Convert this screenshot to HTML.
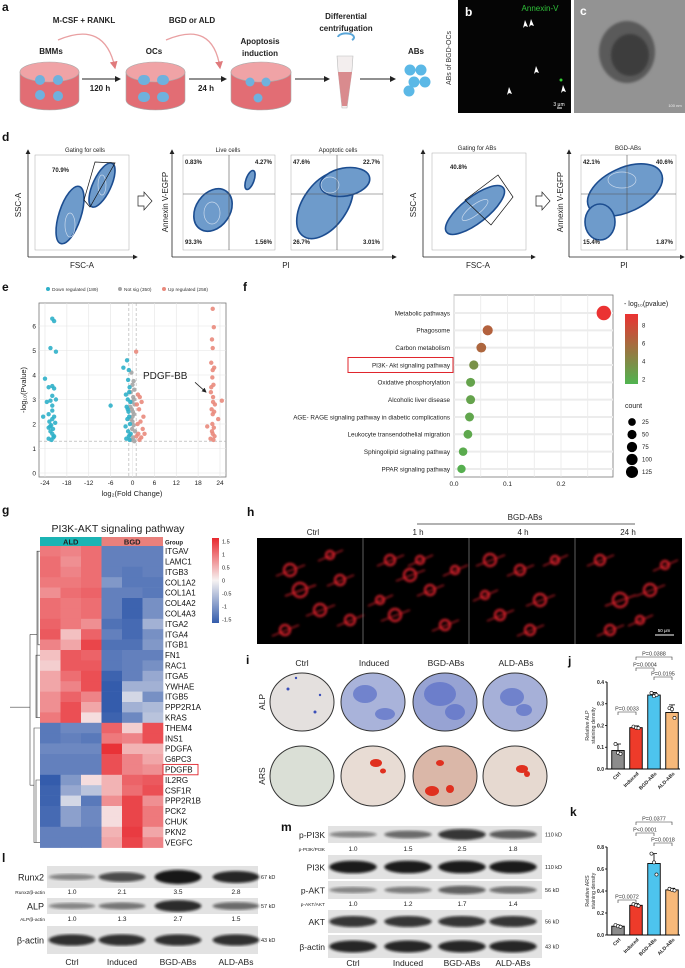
<!DOCTYPE html>
<html><head><meta charset="utf-8"><style>
html,body{margin:0;padding:0;background:#fff;}
svg{display:block;font-family:"Liberation Sans",Arial,sans-serif;}
.pl{font-weight:bold;font-size:12px;fill:#111}
.t6{font-size:6px;fill:#222}
.t7{font-size:7px;fill:#222}
.t8{font-size:8px;fill:#222}
.bold{font-weight:bold}
</style></head><body>
<svg id="root" width="685" height="968" viewBox="0 0 685 968" xmlns="http://www.w3.org/2000/svg">
<defs>
<filter id="blur1"><feGaussianBlur stdDeviation="1.2"/></filter>
<marker id="ah" markerWidth="6" markerHeight="6" refX="5" refY="3" orient="auto"><path d="M0,0 L6,3 L0,6 z" fill="#222"/></marker>
<marker id="ahr" markerWidth="6" markerHeight="6" refX="5" refY="3" orient="auto"><path d="M0,0 L6,3 L0,6 z" fill="#e07a7c"/></marker>
</defs>

<!-- Panel a -->
<g>
<text class="pl" x="2" y="11">a</text>
<text class="t8 bold" x="84" y="23" text-anchor="middle">M-CSF + RANKL</text>
<text class="t8 bold" x="192" y="23" text-anchor="middle">BGD or ALD</text>
<text class="t8 bold" x="346" y="19" text-anchor="middle">Differential</text>
<text class="t8 bold" x="346" y="31" text-anchor="middle">centrifugation</text>
<text class="t8 bold" x="260" y="44" text-anchor="middle">Apoptosis</text>
<text class="t8 bold" x="260" y="56" text-anchor="middle">induction</text>
<text class="t8 bold" x="51" y="54" text-anchor="middle">BMMs</text>
<text class="t8 bold" x="154" y="54" text-anchor="middle">OCs</text>
<text class="t8 bold" x="416" y="54" text-anchor="middle">ABs</text>
<path d="M58,40 Q105,20 115,68" fill="none" stroke="#e9a0a2" stroke-width="1.3" marker-end="url(#ahr)"/>
<path d="M166,40 Q213,20 220,68" fill="none" stroke="#e9a0a2" stroke-width="1.3" marker-end="url(#ahr)"/>
<g>
<path d="M20,72 L20,100 A29.5,10 0 0 0 79,100 L79,72 Z" fill="#e26d74" stroke="#aaa" stroke-width="0.6"/>
<ellipse cx="49.5" cy="72" rx="29.5" ry="10" fill="#f0a3a6" stroke="#aaa" stroke-width="0.6"/>
<circle cx="40" cy="80" r="5" fill="#6fb1dd"/><circle cx="58" cy="80" r="5" fill="#6fb1dd"/><circle cx="40" cy="95" r="5" fill="#6fb1dd"/><circle cx="58" cy="96" r="5" fill="#6fb1dd"/></g>
<g>
<path d="M126,72 L126,100 A29.5,10 0 0 0 185,100 L185,72 Z" fill="#e26d74" stroke="#aaa" stroke-width="0.6"/>
<ellipse cx="155.5" cy="72" rx="29.5" ry="10" fill="#f0a3a6" stroke="#aaa" stroke-width="0.6"/>
<rect x="138" y="75" width="12" height="10" rx="5" fill="#6fb1dd"/><rect x="157" y="75" width="12" height="10" rx="5" fill="#6fb1dd"/><rect x="138" y="92" width="12" height="10" rx="5" fill="#6fb1dd"/><rect x="157" y="92" width="12" height="10" rx="5" fill="#6fb1dd"/></g>
<g>
<path d="M231,72 L231,100 A30,10 0 0 0 291,100 L291,72 Z" fill="#e26d74" stroke="#aaa" stroke-width="0.6"/>
<ellipse cx="261" cy="72" rx="30" ry="10" fill="#f0a3a6" stroke="#aaa" stroke-width="0.6"/>
<circle cx="250" cy="82" r="4.5" fill="#6fb1dd"/><circle cx="266" cy="82" r="4.5" fill="#6fb1dd"/><circle cx="258" cy="98" r="4.5" fill="#6fb1dd"/></g>
<line x1="82" y1="79" x2="120" y2="79" stroke="#222" stroke-width="1" marker-end="url(#ah)"/>
<text class="t8 bold" x="100" y="91" text-anchor="middle">120 h</text>
<line x1="189" y1="79" x2="226" y2="79" stroke="#222" stroke-width="1" marker-end="url(#ah)"/>
<text class="t8 bold" x="206" y="91" text-anchor="middle">24 h</text>
<line x1="295" y1="79" x2="329" y2="79" stroke="#222" stroke-width="1" marker-end="url(#ah)"/>
<line x1="360" y1="79" x2="395" y2="79" stroke="#222" stroke-width="1" marker-end="url(#ah)"/>
<path d="M338,37 A8,4 0 1 1 352,40" fill="none" stroke="#5aa6d8" stroke-width="2"/>
<path d="M337,56 L353,56 L352,70 L347,108 L342,108 L338,70 Z" fill="#f3eeee" stroke="#bbb" stroke-width="0.6"/>
<path d="M338,72 L352,72 L347,106 L342,106 Z" fill="#d98b8e"/>
<g fill="#5bb8e6"><circle cx="410" cy="70" r="5.5"/><circle cx="421" cy="70" r="5.5"/><circle cx="414" cy="82" r="5.5"/><circle cx="425" cy="82" r="5.5"/><circle cx="409" cy="91" r="5.5"/></g>
</g>

<!-- Panel b -->
<g>
<text x="451" y="58" font-size="7" fill="#333" transform="rotate(-90 451 58)" text-anchor="middle">ABs of BGD-OCs</text>
<rect x="458" y="0" width="113" height="113" fill="#050505"/>
<text class="pl" x="465" y="16" style="fill:#fff">b</text>
<text x="540" y="11" font-size="8" fill="#2fc23a" text-anchor="middle">Annexin-V</text>
<g fill="#fff"><path d="M525,20 l3,7 l-3,-1 l-2,2 z"/><path d="M531,19 l3,7 l-3,-1 l-2,2 z"/><path d="M536,66 l3,7 l-3,-1 l-2,2 z"/><path d="M509,87 l3,7 l-3,-1 l-2,2 z"/><path d="M563,85 l3,7 l-3,-1 l-2,2 z"/></g>
<circle cx="561" cy="80" r="1.5" fill="#3c3" />
<line x1="557" y1="108" x2="562" y2="108" stroke="#fff"/><text x="559" y="106" font-size="5" fill="#fff" text-anchor="middle">3 μm</text>
</g>
<!-- Panel c -->
<g>
<rect x="574" y="0" width="111" height="113" fill="#939393"/>
<ellipse cx="627" cy="52" rx="28" ry="31" fill="#5a5a5a" filter="url(#blur1)"/>
<ellipse cx="630" cy="55" rx="19" ry="21" fill="#3e3e3e" filter="url(#blur1)"/>
<text class="pl" x="580" y="15" style="fill:#fff">c</text>
<text x="675" y="107" font-size="4" fill="#eee" text-anchor="middle">100 nm</text>
</g>

<!-- Panel d -->
<g>
<text class="pl" x="2" y="141">d</text>
<g stroke="#222" stroke-width="0.8" fill="none">
<line x1="28" y1="257" x2="28" y2="150" marker-end="url(#ah)"/><line x1="28" y1="257" x2="137" y2="257" marker-end="url(#ah)"/>
<line x1="172" y1="257" x2="172" y2="150" marker-end="url(#ah)"/><line x1="172" y1="257" x2="396" y2="257" marker-end="url(#ah)"/>
<line x1="423" y1="257" x2="423" y2="150" marker-end="url(#ah)"/><line x1="423" y1="257" x2="535" y2="257" marker-end="url(#ah)"/>
<line x1="569" y1="257" x2="569" y2="150" marker-end="url(#ah)"/><line x1="569" y1="257" x2="684" y2="257" marker-end="url(#ah)"/>
</g>
<g fill="none" stroke="#aaa" stroke-width="0.5">
<rect x="35" y="155" width="94" height="95"/><rect x="183" y="155" width="92" height="95"/><rect x="291" y="155" width="92" height="95"/><rect x="432" y="153" width="94" height="97"/><rect x="581" y="155" width="95" height="95"/>
</g>
<g fill="#6e9bcb" stroke="#1c4d90" stroke-width="1.6">
<ellipse cx="70" cy="215" rx="11" ry="30" transform="rotate(18 70 215)"/>
<ellipse cx="102" cy="185" rx="9" ry="24" transform="rotate(25 102 185)"/>
<ellipse cx="213" cy="210" rx="17" ry="23" transform="rotate(35 213 210)"/>
<ellipse cx="250" cy="180" rx="4" ry="10" transform="rotate(20 250 180)"/>
<ellipse cx="325" cy="205" rx="22" ry="38" transform="rotate(35 325 205)"/>
<ellipse cx="345" cy="182" rx="25" ry="14" transform="rotate(-10 345 182)"/>
<ellipse cx="475" cy="210" rx="36" ry="13" transform="rotate(-38 475 210)"/>
<ellipse cx="625" cy="190" rx="40" ry="22" transform="rotate(-25 625 190)"/>
<ellipse cx="600" cy="222" rx="15" ry="18"/>
</g>
<g fill="none" stroke="#c9d9ec" stroke-width="0.7">
<ellipse cx="70" cy="225" rx="5" ry="12"/><ellipse cx="102" cy="185" rx="4" ry="10"/><ellipse cx="212" cy="213" rx="8" ry="11"/><ellipse cx="330" cy="185" rx="9" ry="8"/><ellipse cx="475" cy="210" rx="16" ry="5" transform="rotate(-38 475 210)"/><ellipse cx="622" cy="180" rx="14" ry="8"/></g>
<path d="M95,162 L115,163 L90,207 L84,200 Z" fill="none" stroke="#111" stroke-width="0.7"/>
<path d="M465,200 L498,175 L513,197 L491,225 Z" fill="none" stroke="#111" stroke-width="0.7"/>
<g stroke="#555" stroke-width="0.6"><line x1="183" y1="194" x2="275" y2="194"/><line x1="229" y1="155" x2="229" y2="250"/><line x1="291" y1="194" x2="383" y2="194"/><line x1="337" y1="155" x2="337" y2="250"/><line x1="581" y1="194" x2="676" y2="194"/><line x1="627" y1="155" x2="627" y2="250"/></g>
<path d="M138,196 l6,0 l0,-4 l8,9 l-8,9 l0,-4 l-6,0 z" fill="#fff" stroke="#222" stroke-width="0.7"/>
<path d="M536,196 l6,0 l0,-4 l8,9 l-8,9 l0,-4 l-6,0 z" fill="#fff" stroke="#222" stroke-width="0.7"/>
<g class="t6" text-anchor="middle">
<text x="85" y="152">Gating for cells</text><text x="228" y="152">Live cells</text><text x="338" y="152">Apoptotic cells</text><text x="477" y="150">Gating for ABs</text><text x="628" y="150">BGD-ABs</text>
</g>
<g font-size="6" font-weight="bold" fill="#222">
<text x="52" y="172">70.9%</text><text x="185" y="164">0.83%</text><text x="272" y="164" text-anchor="end">4.27%</text><text x="185" y="244">93.3%</text><text x="272" y="244" text-anchor="end">1.56%</text>
<text x="293" y="164">47.6%</text><text x="380" y="164" text-anchor="end">22.7%</text><text x="293" y="244">26.7%</text><text x="380" y="244" text-anchor="end">3.01%</text>
<text x="450" y="169">40.8%</text>
<text x="583" y="164">42.1%</text><text x="673" y="164" text-anchor="end">40.6%</text><text x="583" y="244">15.4%</text><text x="673" y="244" text-anchor="end">1.87%</text>
</g>
<g class="t8" text-anchor="middle">
<text x="21" y="205" transform="rotate(-90 21 205)">SSC-A</text><text x="82" y="268">FSC-A</text>
<text x="168" y="202" transform="rotate(-90 168 202)">Annexin V-EGFP</text><text x="286" y="268">PI</text>
<text x="416" y="205" transform="rotate(-90 416 205)">SSC-A</text><text x="478" y="268">FSC-A</text>
<text x="563" y="202" transform="rotate(-90 563 202)">Annexin V-EGFP</text><text x="624" y="268">PI</text>
</g>
</g>

<!-- Panel e -->
<g id="pe">
<text class="pl" x="2" y="291">e</text>
</g>
<!-- Panel f -->
<g id="pf">
<text class="pl" x="243" y="291">f</text>
</g>
<!-- Panel g -->
<g id="pg">
<text class="pl" x="2" y="514">g</text>
<text x="118" y="532" font-size="10.5" fill="#222" text-anchor="middle">PI3K-AKT signaling pathway</text>
</g>

<!-- Panel h -->
<g>
<text class="pl" x="247" y="516">h</text>
<text x="525" y="520" font-size="8" fill="#222" text-anchor="middle">BGD-ABs</text>
<line x1="417" y1="524" x2="635" y2="524" stroke="#333" stroke-width="0.8"/>
<g font-size="8" fill="#222" text-anchor="middle"><text x="313" y="535">Ctrl</text><text x="418" y="535">1 h</text><text x="523" y="535">4 h</text><text x="628" y="535">24 h</text></g>
<rect x="257" y="538" width="425" height="106" fill="#000"/>
<g id="hcells" fill="none" stroke="#d8202c" stroke-width="2.2" filter="url(#blur1)"></g>
<g stroke="#888" stroke-width="0.7"><line x1="363" y1="538" x2="363" y2="644"/><line x1="469" y1="538" x2="469" y2="644"/><line x1="575" y1="538" x2="575" y2="644"/></g>
<line x1="655" y1="635" x2="674" y2="635" stroke="#fff" stroke-width="1"/><text x="664" y="632" font-size="4.5" fill="#fff" text-anchor="middle">50 μm</text>
</g>

<!-- Panel i -->
<g>
<text class="pl" x="246" y="664">i</text>
<g font-size="8.5" fill="#222" text-anchor="middle"><text x="302" y="666">Ctrl</text><text x="374" y="666">Induced</text><text x="446" y="666">BGD-ABs</text><text x="516" y="666">ALD-ABs</text></g>
<text x="265" y="702" font-size="8.5" fill="#222" text-anchor="middle" transform="rotate(-90 265 702)">ALP</text>
<text x="265" y="776" font-size="8.5" fill="#222" text-anchor="middle" transform="rotate(-90 265 776)">ARS</text>
<g stroke="#333" stroke-width="1">
<ellipse cx="302" cy="702" rx="32" ry="29" fill="#e4e0de"/><ellipse cx="373" cy="702" rx="32" ry="29" fill="#a9b3da"/><ellipse cx="445" cy="702" rx="32" ry="29" fill="#97a3d3"/><ellipse cx="515" cy="702" rx="32" ry="29" fill="#a6b0d8"/>
<ellipse cx="302" cy="776" rx="32" ry="30" fill="#dadfd6"/><ellipse cx="373" cy="776" rx="32" ry="30" fill="#e8dcd4"/><ellipse cx="445" cy="776" rx="32" ry="30" fill="#dab7a8"/><ellipse cx="515" cy="776" rx="32" ry="30" fill="#e6d9d0"/>
</g>
<g fill="#5a6fc8" opacity="0.7"><ellipse cx="365" cy="694" rx="12" ry="9"/><ellipse cx="385" cy="714" rx="10" ry="6"/><ellipse cx="440" cy="694" rx="16" ry="12"/><ellipse cx="455" cy="712" rx="10" ry="8"/><ellipse cx="512" cy="697" rx="12" ry="9"/><ellipse cx="524" cy="710" rx="8" ry="6"/></g>
<g fill="#3b4fb8"><circle cx="288" cy="689" r="1.5"/><circle cx="315" cy="712" r="1.5"/><circle cx="320" cy="695" r="1.2"/><circle cx="296" cy="678" r="1.2"/></g>
<g fill="#e0301f"><ellipse cx="376" cy="763" rx="6" ry="4"/><ellipse cx="383" cy="771" rx="3" ry="2.5"/><ellipse cx="432" cy="791" rx="7" ry="5"/><ellipse cx="450" cy="789" rx="4" ry="4"/><ellipse cx="440" cy="763" rx="4" ry="3"/><ellipse cx="522" cy="769" rx="6" ry="4"/><ellipse cx="527" cy="774" rx="3" ry="3"/></g>
</g>

<!-- Panels j & k -->
<g id="pj">
<text class="pl" x="568" y="665">j</text>
</g>
<g id="pk">
<text class="pl" x="570" y="816">k</text>
</g>

<!-- Panel l -->
<g id="pl">
<text class="pl" x="2" y="862">l</text>
</g>
<!-- Panel m -->
<g id="pm">
<text class="pl" x="281" y="831">m</text>
</g>
</svg>

<script>
// ---------- DATA ----------
// Volcano (e)
const downX = [-22,-21.5,-22.5,-21,-24,-22,-23,-21.5,-22,-22.5,-23.5,-21,-22,-22,-23,-21.5,-22,-22.8,-21.2,-22.3,-23,-21.8,-22.5,-24.5,-22,-21.5,-23,-22.2,-21.7,-22.6];
const downY = [6.3,6.2,5.1,4.95,3.85,3.55,3.5,3.45,3.15,2.95,2.9,3.0,2.75,2.55,2.4,2.3,2.2,2.1,2.05,1.95,1.85,1.8,1.7,2.3,1.6,1.5,1.4,1.35,1.45,1.9];
const nearDownX = [-1.5,-6,-1,-2.5,-1.2,-0.8,-1.8,-1.3,-0.6,-1.6,-1.1,-0.9,-1.4,-0.7,-1.9,-1.2,-0.5,-1,-1.7,-0.8,-1.3,-0.9];
const nearDownY = [4.6,2.75,4.2,4.3,3.8,3.5,3.2,3.0,2.9,2.7,2.5,2.3,2.2,2.0,1.9,1.7,1.6,1.5,1.4,1.35,2.6,3.3];
const notSigX = [-0.3,0.3,0,0.5,-0.5,0.2,-0.2,0.6,-0.6,0.1,0.4,-0.4,0,0.3,-0.1,0.7,-0.7,0.2,-0.3,0.5,0,-0.2,0.4];
const notSigY = [4.1,3.75,3.6,3.4,3.3,3.1,2.9,2.8,2.7,2.5,2.4,2.2,2.1,1.95,1.8,1.7,1.55,1.45,1.35,1.3,2.3,2.6,3.0];
const nearUpX = [1,1.5,2,2.5,1.2,1.8,3,2.2,1.4,2.8,1.6,1.1,2.4,3.3,1.9];
const nearUpY = [4.95,3.2,3.1,2.9,2.8,2.6,2.3,2.1,2.0,1.8,1.6,1.5,1.45,1.6,1.35];
const upX = [22,22.3,21.8,22,21.6,22.4,22,21.9,22.2,24.5,21.5,22.1,22.6,21.7,22,23.5,20.5,22.3,21.8,22,22.5,21.4,22.2,21.9,22.1,21.6,22.4];
const upY = [6.7,5.95,5.45,5.1,4.5,4.3,4.2,3.9,3.6,2.95,3.3,3.1,2.8,2.6,2.4,2.2,1.9,1.85,1.7,1.6,1.5,1.4,1.35,2.0,2.9,3.5,2.5];
const volcanoXTicks = [-24,-18,-12,-6,0,6,12,18,24];
const volcanoYTicks = [0,1,2,3,4,5,6];

// KEGG bubble (f)
const pathways = ["Metabolic pathways","Phagosome","Carbon metabolism","PI3K- Akt signaling pathway","Oxidative phosphorylation","Alcoholic liver disease","AGE- RAGE signaling pathway in diabetic complications","Leukocyte transendothelial migration","Sphingolipid signaling pathway","PPAR signaling pathway"];
const geneRatio = [0.28,0.063,0.051,0.037,0.031,0.031,0.029,0.026,0.017,0.014];
const negLogP = [9,6.3,6,3.5,2.5,2.5,2.3,2.2,2,1.8];
const pathCount = [130,40,35,28,25,25,24,23,20,18];
const ratioTicks = [0.0,0.1,0.2];
const countLegend = [25,50,75,100,125];
const pColorTicks = [2,4,6,8];

// Heatmap (g)
const genes = ["ITGAV","LAMC1","ITGB3","COL1A2","COL1A1","COL4A2","COL4A3","ITGA2","ITGA4","ITGB1","FN1","RAC1","ITGA5","YWHAE","ITGB5","PPP2R1A","KRAS","THEM4","INS1","PDGFA","G6PC3","PDGFB","IL2RG","CSF1R","PPP2R1B","PCK2","CHUK","PKN2","VEGFC"];
const heatValues = [
[0.9,0.8,1.0,-1.2,-1.2,-1.2],[1.0,0.7,1.0,-1.2,-1.2,-1.2],[1.0,0.8,1.0,-1.2,-1.3,-1.2],[0.9,0.9,1.0,-0.9,-1.3,-1.3],
[0.7,1.0,1.1,-1.2,-1.2,-1.3],[1.0,0.9,1.0,-1.2,-1.6,-1.0],[1.0,0.9,1.0,-1.2,-1.6,-1.0],[1.1,0.9,0.7,-1.4,-1.5,-0.6],
[1.2,0.3,1.1,-1.2,-1.5,-1.0],[0.8,0.5,1.4,-1.4,-1.4,-0.9],[0.3,1.2,1.1,-1.3,-1.2,-1.2],[0.2,1.2,1.2,-1.3,-1.2,-1.0],
[0.5,1.0,1.3,-1.6,-1.2,-0.7],[0.5,0.8,1.3,-1.7,-0.6,-0.6],[0.7,1.1,0.8,-1.7,-0.2,-1.0],[0.7,1.3,0.5,-1.7,-0.6,-0.5],
[0.9,1.3,0.1,-1.6,-1.1,-0.4],[-1.3,-1.1,-1.1,1.1,0.2,1.3],[-1.3,-1.2,-1.3,0.9,0.8,1.3],[-1.1,-1.1,-1.1,1.6,0.4,0.4],
[-1.2,-1.2,-1.2,1.3,0.8,0.5],[-1.2,-1.2,-1.2,1.3,0.8,0.7],[-1.7,-0.9,0.1,0.4,1.1,1.2],[-1.6,-0.7,-0.4,0.4,1.0,1.3],
[-1.6,-0.2,-1.3,0.7,1.4,0.7],[-1.5,-0.8,-1.1,0.1,1.4,0.9],[-1.5,-0.8,-1.1,0.1,1.4,0.9],[-1.2,-1.2,-1.2,0.4,1.5,0.5],[-1.2,-1.2,-1.2,0.5,1.4,0.8]];
const heatLegendTicks = [1.5,1,0.5,0,-0.5,-1,-1.5];

// Bars (j,k)
const groups = ["Ctrl","Induced","BGD-ABs","ALD-ABs"];
const alpValues = [0.085,0.19,0.34,0.26];
const alpErr = [0.03,0.008,0.012,0.035];
const alpDots = [[0.115,0.075,0.07],[0.195,0.19,0.188],[0.35,0.335,0.34],[0.28,0.275,0.235]];
const alpTicks = [0,0.1,0.2,0.3,0.4];
const arsValues = [0.08,0.27,0.65,0.41];
const arsErr = [0.01,0.015,0.09,0.015];
const arsDots = [[0.09,0.08,0.075],[0.28,0.27,0.265],[0.74,0.66,0.55],[0.42,0.41,0.405]];
const arsTicks = [0,0.2,0.4,0.6,0.8];

// Blots (l,m)
const runx2Ratio = [1.0,2.1,3.5,2.8];
const alpRatio = [1.0,1.3,2.7,1.5];
const pPI3KRatio = [1.0,1.5,2.5,1.8];
const pAKTRatio = [1.0,1.2,1.7,1.4];

// ---------- HELPERS ----------
const NS = "http://www.w3.org/2000/svg";
function mk(parent, tag, attrs, txt){
  const e = document.createElementNS(NS, tag);
  for (const k in attrs) e.setAttribute(k, attrs[k]);
  if (txt !== undefined) e.textContent = txt;
  parent.appendChild(e);
  return e;
}
let el;

// ---------- PANEL e ----------
(function(){
  const g = document.getElementById('pe');
  const x = v => 132.5 + v*3.646;
  const y = v => 473 - v*24.5;
  el = mk(g,'rect',{x:39,y:303,width:187,height:174,fill:'#fff',stroke:'#777','stroke-width':0.8});
  
  
  volcanoXTicks.forEach(t=>{
    el = mk(g,'line',{x1:x(t),y1:303,x2:x(t),y2:477,stroke:'#e4e4e4','stroke-width':0.6});
    
    
    el = mk(g,'text',{x:x(t),y:485,'font-size':6.5,'text-anchor':'middle',fill:'#222'},String(t));
    
    
  });
  volcanoYTicks.forEach(t=>{
    el = mk(g,'line',{x1:39,y1:y(t),x2:226,y2:y(t),stroke:'#e4e4e4','stroke-width':0.6});
    
    
    el = mk(g,'text',{x:36,y:y(t)+2.3,'font-size':6.5,'text-anchor':'end',fill:'#222'},String(t));
    
    
  });
  [-1,1].forEach(v=>{
    el = mk(g,'line',{x1:x(v),y1:303,x2:x(v),y2:477,stroke:'#aaa','stroke-width':0.6,'stroke-dasharray':'3,2'});
    
    
  });
  el = mk(g,'line',{x1:39,y1:y(1.3),x2:226,y2:y(1.3),stroke:'#aaa','stroke-width':0.6,'stroke-dasharray':'3,2'});
  
  
  function pts(xs,ys,col,name){
    xs.forEach((v,i)=>{
      el = mk(g,'circle',{cx:x(v),cy:y(ys[i]),r:2.2,fill:col,opacity:0.9});
      
      
    });
  }
  pts(notSigX,notSigY,'#a5a5a5','point-not-sig');
  pts(downX,downY,'#2fb0c9','point-down-regulated');
  pts(nearDownX,nearDownY,'#2fb0c9','point-down-regulated');
  pts(nearUpX,nearUpY,'#e9897c','point-up-regulated');
  pts(upX,upY,'#e9897c','point-up-regulated');
  el = mk(g,'text',{x:143,y:y(4)+4,'font-size':10,fill:'#222'},'PDGF-BB');
  
  
  el = mk(g,'line',{x1:195,y1:y(3.7),x2:206,y2:y(3.3),stroke:'#222','stroke-width':0.8,'marker-end':'url(#ah)'});
  
  
  el = mk(g,'text',{x:132,y:496,'font-size':7.5,'text-anchor':'middle',fill:'#222'},'log₂(Fold Change)');
  
  
  el = mk(g,'text',{x:26,y:390,'font-size':7.5,'text-anchor':'middle',fill:'#222',transform:'rotate(-90 26 390)'},'-log₁₀(Pvalue)');
  
  
  const leg = [['#2fb0c9','Down regulated (189)',48],['#a5a5a5','Not sig (350)',120],['#e9897c','Up regulated (258)',164]];
  leg.forEach(l=>{
    el = mk(g,'circle',{cx:l[2],cy:289,r:2,fill:l[0]});
    
    
    el = mk(g,'text',{x:l[2]+4,y:291,'font-size':4.8,fill:'#333'},l[1]);
    
    
  });
})();

// ---------- PANEL f ----------
(function(){
  const g = document.getElementById('pf');
  const x = v => 454 + v*535;
  const y = i => 313 + i*17.33;
  const col = p => { const t=Math.max(0,Math.min(1,(p-1.5)/7.5)); const r=Math.round(80+t*(235-80)); const gg=Math.round(180-t*(180-50)); const b=Math.round(80-t*(80-50)); return `rgb(${r},${gg},${b})`; };
  const rad = c => 2.4 + Math.sqrt(c)*0.42;
  el = mk(g,'rect',{x:454,y:295,width:159,height:182,fill:'#fff',stroke:'#777','stroke-width':0.8});
  
  
  [0,0.05,0.1,0.15,0.2,0.25].forEach(t=>{
    el = mk(g,'line',{x1:x(t),y1:295,x2:x(t),y2:477,stroke:'#e6e6e6','stroke-width':0.7});
    
    
  });
  ratioTicks.forEach(t=>{
    el = mk(g,'text',{x:x(t),y:486,'font-size':6.5,'text-anchor':'middle',fill:'#222'},t.toFixed(1));
    
    
  });
  pathways.forEach((p,i)=>{
    el = mk(g,'line',{x1:454,y1:y(i),x2:613,y2:y(i),stroke:'#ececec','stroke-width':2});
    
    
    el = mk(g,'text',{x:450,y:y(i)+2.3,'font-size':6.3,'text-anchor':'end',fill:'#222'},p);
    
    
    el = mk(g,'circle',{cx:x(geneRatio[i]),cy:y(i),r:rad(pathCount[i]),fill:col(negLogP[i])});
    
    
  });
  el = mk(g,'rect',{x:348,y:y(3)-7.5,width:105,height:15,fill:'none',stroke:'#e0242b','stroke-width':1});
  
  
  el = mk(g,'text',{x:624,y:306,'font-size':7,fill:'#222'},'- log₁₀(pvalue)');
  
  
  const defs = document.querySelector('defs');
  const lg = mk(defs,'linearGradient',{id:'pgrad',x1:0,y1:0,x2:0,y2:1});
  mk(lg,'stop',{offset:'0','stop-color':col(9)});
  mk(lg,'stop',{offset:'0.5','stop-color':col(5.2)});
  mk(lg,'stop',{offset:'1','stop-color':col(1.5)});
  el = mk(g,'rect',{x:625,y:314,width:13,height:70,fill:'url(#pgrad)'});
  
  
  pColorTicks.forEach(t=>{
    const yy = 384 - (t-1.5)/(9.3-1.5)*70;
    el = mk(g,'text',{x:642,y:yy+2,'font-size':6,fill:'#222'},String(t));
    
    
  });
  el = mk(g,'text',{x:625,y:408,'font-size':7,fill:'#222'},'count');
  
  
  countLegend.forEach((c,i)=>{
    el = mk(g,'circle',{cx:632,cy:422+i*12.5,r:rad(c)*0.85,fill:'#000'});
    
    
    el = mk(g,'text',{x:642,y:424+i*12.5,'font-size':6,fill:'#222'},String(c));
    
    
  });
})();

// ---------- PANEL g ----------
(function(){
  const g = document.getElementById('pg');
  const x0=40, cw=20.5, y0=546, rh=10.4;
  function hcol(v){
    const t=Math.min(1,Math.abs(v)/1.7);
    const base=[246,242,242];
    const end = v>=0 ? [232,40,46] : [52,92,172];
    const c = base.map((b,i)=>Math.round(b+(end[i]-b)*Math.pow(t,0.8)));
    return `rgb(${c[0]},${c[1]},${c[2]})`;
  }
  el = mk(g,'rect',{x:x0,y:537,width:cw*3,height:9,fill:'#1bb4b4'});
  
  
  el = mk(g,'rect',{x:x0+cw*3,y:537,width:cw*3,height:9,fill:'#e9807c'});
  
  
  el = mk(g,'text',{x:x0+cw*1.5,y:544.5,'font-size':7.5,'font-weight':'bold','text-anchor':'middle',fill:'#222'},'ALD');
  
  
  el = mk(g,'text',{x:x0+cw*4.5,y:544.5,'font-size':7.5,'font-weight':'bold','text-anchor':'middle',fill:'#222'},'BGD');
  
  
  el = mk(g,'text',{x:165,y:544.5,'font-size':6,'font-weight':'bold',fill:'#222'},'Group');
  
  
  heatValues.forEach((row,r)=>{
    row.forEach((v,c)=>{
      el = mk(g,'rect',{x:x0+c*cw,y:y0+r*rh,width:cw+0.3,height:rh+0.3,fill:hcol(v)});
      
      
    });
    el = mk(g,'text',{x:165,y:y0+r*rh+rh*0.78,'font-size':8,fill:'#111'},genes[r]);
    
    
  });
  const pi = genes.indexOf('PDGFB');
  el = mk(g,'rect',{x:163,y:y0+pi*rh,width:35,height:rh,fill:'none',stroke:'#e0242b','stroke-width':0.9});
  
  
  const mid = i => y0 + i*rh + rh/2;
  const dpath = `M40,${mid(0)} H37 V${mid(16)} H40 M37,${(mid(0)+mid(16))/2} H30 M40,${mid(17)} H34 V${mid(28)} H40 M34,${(mid(17)+mid(28))/2} H30 M30,${(mid(0)+mid(16))/2} V${(mid(17)+mid(28))/2} M30,${(mid(8)+mid(22))/2} H10 M40,${mid(10)} H36 V${mid(16)} H40 M40,${mid(22)} H36 V${mid(28)} H40 M40,${mid(0)} H38 V${mid(9)} H40`;
  el = mk(g,'path',{d:dpath,fill:'none',stroke:'#444','stroke-width':0.6});
  
  
  const defs = document.querySelector('defs');
  const lg = mk(defs,'linearGradient',{id:'hgrad',x1:0,y1:0,x2:0,y2:1});
  mk(lg,'stop',{offset:'0','stop-color':hcol(1.7)});
  mk(lg,'stop',{offset:'0.5','stop-color':hcol(0)});
  mk(lg,'stop',{offset:'1','stop-color':hcol(-1.7)});
  el = mk(g,'rect',{x:212,y:538,width:7,height:85,fill:'url(#hgrad)'});
  
  
  heatLegendTicks.forEach(t=>{
    el = mk(g,'text',{x:222,y:580.5 - t*26 + 2,'font-size':5.5,fill:'#222'},String(t));
    
    
  });
})();

// ---------- PANEL h (decorative cells) ----------
(function(){
  const g = document.getElementById('hcells');
  const cells = [[290,570,6],[300,590,7],[320,610,6],[340,580,5],[285,630,5],[330,555,4],[350,620,5],
    [390,560,5],[410,575,6],[430,590,5],[395,615,6],[445,625,5],[420,560,4],[455,570,4],[380,600,4],
    [490,560,6],[520,570,5],[540,600,6],[500,615,5],[555,560,4],[485,595,4],[530,630,5],
    [600,560,5],[620,600,7],[650,590,6],[610,630,5],[665,565,4],[640,620,4]];
  cells.forEach(c=>{
    el = mk(g,'circle',{cx:c[0],cy:c[1],r:c[2]});
    
    
    el = mk(g,'path',{d:`M${c[0]-c[2]-8},${c[1]+6} L${c[0]+c[2]+9},${c[1]-5}`,'stroke-width':1.2});
    
    
  });
})();

// ---------- PANELS j, k ----------
function barChart(gid, vals, errs, dots, ticks, yMax, yTop, yBot, brackets, prefix){
  const g = document.getElementById(gid);
  const xAxis = 607, xs=[618,636,654,672], bw=12.5;
  const y = v => yBot - v/yMax*(yBot-yTop);
  const cols = ['#8c8c8c','#ee3b2a','#4dc4ee','#f7b97a'];
  el = mk(g,'line',{x1:xAxis,y1:yTop,x2:xAxis,y2:yBot,stroke:'#000','stroke-width':1});
  
  
  el = mk(g,'line',{x1:xAxis,y1:yBot,x2:680,y2:yBot,stroke:'#000','stroke-width':1});
  
  
  ticks.forEach(t=>{
    el = mk(g,'line',{x1:xAxis-2,y1:y(t),x2:xAxis,y2:y(t),stroke:'#000','stroke-width':0.8});
    
    
    el = mk(g,'text',{x:xAxis-3,y:y(t)+1.8,'font-size':5,'font-weight':'bold','text-anchor':'end',fill:'#222'},t.toFixed(1));
    
    
  });
  vals.forEach((v,i)=>{
    el = mk(g,'rect',{x:xs[i]-bw/2,y:y(v),width:bw,height:yBot-y(v),fill:cols[i],stroke:'#000','stroke-width':0.9});
    
    
    el = mk(g,'path',{d:`M${xs[i]},${y(v)} V${y(v+errs[i])} M${xs[i]-3},${y(v+errs[i])} H${xs[i]+3}`,stroke:'#000','stroke-width':0.8,fill:'none'});
    
    
    dots[i].forEach((d,k)=>{
      el = mk(g,'circle',{cx:xs[i]+(k-1)*2.5,cy:y(d),r:1.6,fill:'#fff',stroke:'#000','stroke-width':0.6});
      
      
    });
    el = mk(g,'text',{x:xs[i]+3,y:yBot+5,'font-size':5,'font-weight':'bold','text-anchor':'end',fill:'#222',transform:`rotate(-45 ${xs[i]+3} ${yBot+5})`},groups[i]);
    
    
  });
  brackets.forEach(b=>{
    const x1=xs[b[0]], x2=xs[b[1]];
    el = mk(g,'path',{d:`M${x1},${b[2]+3} V${b[2]} H${x2} V${b[2]+3}`,fill:'none',stroke:'#333','stroke-width':0.6});
    
    
    el = mk(g,'text',{x:(x1+x2)/2,y:b[2]-1.5,'font-size':5.5,'text-anchor':'middle',fill:'#333'},b[3]);
    
    
  });
  el = mk(g,'text',{x:589,y:(yTop+yBot)/2,'font-size':5.3,'text-anchor':'middle',fill:'#333',transform:`rotate(-90 589 ${(yTop+yBot)/2})`},'Relative '+(prefix==='j'?'ALP':'ARS'));
  
  
  el = mk(g,'text',{x:595,y:(yTop+yBot)/2,'font-size':5.3,'text-anchor':'middle',fill:'#333',transform:`rotate(-90 595 ${(yTop+yBot)/2})`},'staining density');
  
  
}
barChart('pj', alpValues, alpErr, alpDots, alpTicks, 0.4, 682, 769,
  [[0,1,712,'P=0.0033'],[1,3,657,'P=0.0388'],[1,2,668,'P=0.0004'],[2,3,677,'P=0.0195']],'j');
barChart('pk', arsValues, arsErr, arsDots, arsTicks, 0.8, 847, 935,
  [[0,1,900,'P=0.0072'],[1,3,822,'P=0.0377'],[1,2,833,'P<0.0001'],[2,3,843,'P=0.0018']],'k');

// ---------- BLOTS ----------
function blotRow(g, x0, x1, y0, h, lanes, strengths, label, kd, name, labelSize){
  el = mk(g,'rect',{x:x0,y:y0,width:x1-x0,height:h,fill:'#e2e2e2'});
  
  
  lanes.forEach((lx,i)=>{
    const s = strengths[i];
    el = mk(g,'ellipse',{cx:lx,cy:y0+h/2,rx:(x1-x0)/9,ry:Math.min(h/2-1,1.5+s*1.6),fill:'#111',opacity:Math.min(0.95,0.18+s*0.25),filter:'url(#blur1)'});
    
    
  });
  el = mk(g,'text',{x:x0-3,y:y0+h/2+3.5,'font-size':labelSize,'text-anchor':'end',fill:'#222'},label);
  
  
  el = mk(g,'text',{x:x1+3,y:y0+h/2+2,'font-size':5.5,fill:'#222'},kd);
  
  
}
function ratioRow(g, lanes, vals, y, label, lx, name){
  el = mk(g,'text',{x:lx,y:y,'font-size':4.8,'text-anchor':'end',fill:'#222'},label);
  
  
  vals.forEach((v,i)=>{
    el = mk(g,'text',{x:lanes[i],y:y,'font-size':6.5,'text-anchor':'middle',fill:'#222'},v.toFixed(1));
    
    
  });
}
(function(){
  const g = document.getElementById('pl');
  const lanes=[72,122,178,236];
  blotRow(g,47,258,866,22,lanes,runx2Ratio,'Runx2','67 kD','runx2',9);
  ratioRow(g,lanes,runx2Ratio,894,'Runx2/β-actin',45,'runx2');
  blotRow(g,47,258,898,16,lanes,alpRatio,'ALP','57 kD','alp',9);
  ratioRow(g,lanes,alpRatio,921,'ALP/β-actin',45,'alp');
  blotRow(g,47,258,926,28,lanes,[2.6,2.6,2.6,2.6],'β-actin','43 kD','beta-actin-l',9);
  ['Ctrl','Induced','BGD-ABs','ALD-ABs'].forEach((t,i)=>{
    el = mk(g,'text',{x:lanes[i],y:965,'font-size':8.5,'text-anchor':'middle',fill:'#222'},t);
    
    
  });
})();
(function(){
  const g = document.getElementById('pm');
  const lanes=[353,408,462,513];
  blotRow(g,328,542,826,17,lanes,pPI3KRatio,'p-PI3K','110 kD','p-pi3k',8.5);
  ratioRow(g,lanes,pPI3KRatio,851,'p-PI3K/PI3K',325,'p-pi3k');
  blotRow(g,328,542,855,24,lanes,[3,3,3,3],'PI3K','110 kD','pi3k',8.5);
  blotRow(g,328,542,881,18,lanes,pAKTRatio,'p-AKT','56 kD','p-akt',8.5);
  ratioRow(g,lanes,pAKTRatio,906,'p-AKT/AKT',325,'p-akt');
  blotRow(g,328,542,910,23,lanes,[2.5,2.5,2.5,2.5],'AKT','56 kD','akt',8.5);
  blotRow(g,328,542,935,23,lanes,[2.8,2.8,2.8,2.8],'β-actin','43 kD','beta-actin-m',8.5);
  ['Ctrl','Induced','BGD-ABs','ALD-ABs'].forEach((t,i)=>{
    el = mk(g,'text',{x:lanes[i],y:966,'font-size':8.5,'text-anchor':'middle',fill:'#222'},t);
    
    
  });
})();
</script>
</body></html>
